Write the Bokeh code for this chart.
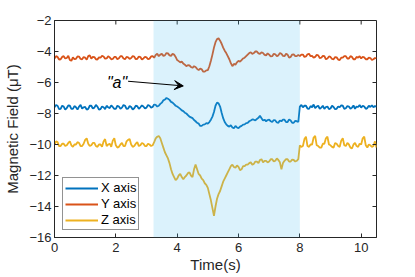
import math
from bokeh.plotting import figure
from bokeh.models import (BoxAnnotation, Arrow, VeeHead, Label, Legend, LegendItem,
                          FixedTicker, Range1d, ColumnDataSource)
from bokeh.embed import file_html
from bokeh.resources import INLINE

time_step = 0.05
x_axis = [-7.6, -7.45, -7.5, -7.72, -7.7, -7.5, -7.55, -7.75, -7.65, -7.48,
          -7.5, -7.7, -7.7, -7.52, -7.6, -7.75, -7.55, -7.45, -7.68, -7.6,
          -7.58, -7.75, -7.7, -7.5, -7.5, -7.68, -7.62, -7.45, -7.55, -7.75,
          -7.72, -7.55, -7.6, -7.72, -7.5, -7.6, -7.65, -7.48, -7.58, -7.7,
          -7.7, -7.5, -7.55, -7.7, -7.62, -7.45, -7.5, -7.7, -7.68, -7.52,
          -7.58, -7.74, -7.66, -7.5, -7.52, -7.7, -7.6, -7.48, -7.55, -7.68,
          -7.62, -7.45, -7.5, -7.62, -7.58, -7.42, -7.45, -7.55, -7.5, -7.38,
          -7.3, -7.15, -7.1, -7.0, -7.05, -7.12, -7.25, -7.3, -7.4, -7.5,
          -7.55, -7.62, -7.7, -7.8, -7.85, -7.95, -8.0, -8.1, -8.2, -8.25,
          -8.3, -8.42, -8.5, -8.6, -8.65, -8.8, -8.8, -8.72, -8.7, -8.62,
          -8.65, -8.55, -8.4, -8.2, -7.9, -7.5, -7.3, -7.35, -7.55, -7.95,
          -8.3, -8.55, -8.7, -8.8, -8.85, -8.75, -8.9, -8.95, -8.8, -8.9,
          -8.95, -8.85, -8.8, -8.72, -8.7, -8.62, -8.6, -8.5, -8.45, -8.38,
          -8.4, -8.45, -8.35, -8.28, -8.15, -8.3, -8.45, -8.4, -8.5, -8.42,
          -8.4, -8.5, -8.55, -8.42, -8.45, -8.58, -8.6, -8.45, -8.5, -8.4,
          -8.4, -8.55, -8.55, -8.38, -8.45, -8.6, -8.6, -8.48, -8.5, -8.55,
          -7.55, -7.45, -7.6, -7.5, -7.5, -7.68, -7.7, -7.52, -7.6, -7.42,
          -7.65, -7.55, -7.5, -7.7, -7.62, -7.5, -7.7, -7.58, -7.55, -7.72,
          -7.68, -7.5, -7.58, -7.72, -7.7, -7.55, -7.6, -7.48, -7.5, -7.7,
          -7.66, -7.52, -7.55, -7.7, -7.62, -7.48, -7.7, -7.55, -7.58, -7.45,
          -7.62, -7.5, -7.55, -7.7, -7.65, -7.5, -7.58, -7.48, -7.6, -7.52,
          -7.55]
y_axis = [-4.45, -4.3, -4.35, -4.52, -4.5, -4.35, -4.3, -4.45, -4.42, -4.28,
          -4.55, -4.6, -4.38, -4.5, -4.47, -4.32, -4.33, -4.48, -4.5, -4.36,
          -4.4, -4.52, -4.3, -4.25, -4.46, -4.35, -4.36, -4.5, -4.52, -4.38,
          -4.4, -4.28, -4.32, -4.46, -4.45, -4.3, -4.38, -4.5, -4.48, -4.35,
          -4.35, -4.5, -4.44, -4.3, -4.3, -4.45, -4.5, -4.35, -4.38, -4.48,
          -4.42, -4.3, -4.33, -4.5, -4.47, -4.32, -4.36, -4.52, -4.45, -4.35,
          -4.38, -4.5, -4.46, -4.32, -4.3, -4.4, -4.22, -4.15, -4.3, -4.2,
          -4.15, -4.28, -4.25, -4.1, -4.12, -4.25, -4.28, -4.15, -4.2, -4.35,
          -4.55, -4.62, -4.7, -4.65, -4.78, -4.85, -4.95, -4.88, -4.9, -5.0,
          -5.05, -4.95, -5.0, -5.12, -5.2, -5.1, -5.15, -5.3, -5.3, -5.22,
          -5.2, -4.95, -4.6, -4.2, -3.75, -3.4, -3.2, -3.15, -3.3, -3.5,
          -3.75, -3.95, -4.1, -4.3, -4.5, -4.75, -4.95, -4.8, -4.85, -4.7,
          -4.6, -4.65, -4.55, -4.45, -4.4, -4.3, -4.2, -4.1, -4.05, -4.15,
          -4.1, -4.0, -4.0, -4.12, -4.15, -4.05, -4.1, -4.22, -4.25, -4.12,
          -4.2, -4.32, -4.3, -4.15, -4.18, -4.3, -4.25, -4.1, -4.15, -4.28,
          -4.3, -4.15, -4.2, -4.4, -4.35, -4.2, -4.18, -4.3, -4.3, -4.22,
          -4.3, -4.2, -4.2, -4.35, -4.32, -4.18, -4.15, -4.3, -4.28, -4.4,
          -4.35, -4.22, -4.25, -4.42, -4.4, -4.28, -4.3, -4.5, -4.45, -4.32,
          -4.35, -4.48, -4.5, -4.36, -4.38, -4.52, -4.55, -4.4, -4.4, -4.3,
          -4.3, -4.45, -4.45, -4.3, -4.35, -4.5, -4.5, -4.35, -4.4, -4.3,
          -4.45, -4.35, -4.38, -4.5, -4.5, -4.4, -4.42, -4.55, -4.5, -4.42,
          -4.45]
z_axis = [-10.0, -9.8, -9.85, -10.1, -10.1, -9.95, -9.95, -10.1, -10.05, -9.9,
          -9.8, -10.05, -10.15, -10.0, -10.0, -9.85, -9.9, -10.1, -10.1, -9.95,
          -9.7, -9.6, -9.95, -10.1, -10.05, -9.9, -9.9, -10.1, -10.15, -10.0,
          -10.0, -10.15, -9.8, -9.65, -10.1, -10.0, -9.95, -10.15, -9.75, -9.6,
          -10.05, -10.2, -10.15, -10.0, -9.9, -10.1, -10.1, -9.8, -9.7, -9.65,
          -10.0, -10.15, -10.1, -9.95, -9.85, -10.1, -10.05, -9.9, -9.95, -10.1,
          -10.1, -9.95, -10.0, -10.1, -10.05, -9.85, -9.6, -9.5, -9.45, -9.6,
          -9.9, -10.2, -10.5, -10.7, -10.9, -11.2, -11.6, -11.9, -12.1, -12.3,
          -12.2, -12.0, -11.9, -12.1, -12.25, -12.1, -12.0, -11.85, -11.8, -12.0,
          -12.1, -11.6, -11.3, -11.6, -11.9, -12.0, -12.2, -12.3, -12.5, -12.6,
          -12.8, -13.2, -13.6, -14.1, -14.6, -14.0, -13.5, -13.2, -13.0, -12.7,
          -12.4, -12.2, -12.0, -11.8, -11.6, -11.4, -11.3, -11.45, -11.5, -11.35,
          -11.45, -11.65, -11.6, -11.4, -11.4, -11.3, -11.3, -11.2, -11.15, -11.3,
          -11.25, -11.1, -11.1, -11.2, -11.0, -10.95, -11.15, -11.05, -11.05, -11.15,
          -11.1, -10.95, -10.95, -11.1, -11.05, -10.9, -11.0, -11.15, -11.6, -11.2,
          -11.05, -10.95, -10.95, -11.1, -11.1, -10.98, -11.0, -11.1, -11.05, -10.95,
          -10.05, -10.15, -10.1, -9.65, -9.5, -10.1, -10.15, -10.0, -10.0, -9.55,
          -9.45, -10.05, -10.1, -10.2, -10.2, -9.95, -9.95, -9.6, -9.5, -10.0,
          -10.05, -10.15, -10.2, -9.9, -9.95, -10.1, -10.15, -9.75, -9.6, -10.05,
          -10.1, -9.9, -10.0, -10.2, -10.25, -10.0, -9.9, -10.1, -10.15, -9.95,
          -10.0, -9.6, -9.5, -10.05, -10.2, -10.0, -10.05, -10.15, -10.1, -9.8,
          -10.2]
series_names = ["X axis", "Y axis", "Z axis"]
series_colors = ["#0072BD", "#D95319", "#EDB120"]
x_ticks = [0, 2, 4, 6, 8, 10]
y_ticks = [-16, -14, -12, -10, -8, -6, -4, -2]
x_lim = (0, 10.5)
y_lim = (-16, -2)
event_start, event_end = 3.23, 8.0
annot_text = '"a"'
annot_pos = (2.04, -5.98)
arrow_from = (2.4, -5.92)
arrow_to = (4.2, -6.22)

t = [round(i * time_step, 3) for i in range(len(x_axis))]
src = ColumnDataSource(dict(t=t, X=x_axis, Y=y_axis, Z=z_axis))

FONT = "Liberation Sans"
AX = "#262626"

p = figure(width=415, height=277, x_range=Range1d(*x_lim), y_range=Range1d(*y_lim),
           output_backend="svg", toolbar_location=None,
           min_border_left=54, min_border_right=39, min_border_top=20, min_border_bottom=40)
p.background_fill_color = "white"
p.border_fill_color = "white"
p.xgrid.visible = False
p.ygrid.visible = False
p.outline_line_color = AX
p.outline_line_width = 1

renderers = []
for key, col in zip(["X", "Y", "Z"], series_colors):
    r = p.line("t", key, source=src, line_color=col, line_width=1.8)
    renderers.append(r)

# inward ticks on the top and right edges of the box
p.ray(x=x_ticks, y=[y_lim[1]] * len(x_ticks), length=4, length_units="screen",
      angle=-math.pi / 2, line_color=AX, line_width=1)
p.ray(x=[x_lim[1]] * len(y_ticks), y=y_ticks, length=4, length_units="screen",
      angle=math.pi, line_color=AX, line_width=1)

# shaded event region, drawn over the lines
p.add_layout(BoxAnnotation(left=event_start, right=event_end, fill_color="#4DBEEE",
                           fill_alpha=0.2, line_color=None))

for ax, ticks in ((p.xaxis[0], x_ticks), (p.yaxis[0], y_ticks)):
    ax.ticker = FixedTicker(ticks=ticks)
    ax.major_tick_in = 4
    ax.major_tick_out = 0
    ax.minor_tick_line_color = None
    ax.axis_line_color = AX
    ax.major_tick_line_color = AX
    ax.major_label_text_color = AX
    ax.major_label_text_font = FONT
    ax.major_label_text_font_size = "13px"
    ax.axis_label_text_font = FONT
    ax.axis_label_text_font_style = "normal"
    ax.axis_label_text_color = AX
    ax.axis_label_text_font_size = "15px"

p.xaxis[0].axis_label = "Time(s)"
p.xaxis[0].major_label_standoff = 5
p.xaxis[0].axis_label_standoff = 1
p.yaxis[0].axis_label = "Magnetic Field (μT)"
p.yaxis[0].major_label_standoff = 3
p.yaxis[0].axis_label_standoff = 5

# annotation
p.add_layout(Arrow(end=VeeHead(size=9, fill_color="black", line_color="black", line_width=1),
                   x_start=arrow_from[0], y_start=arrow_from[1],
                   x_end=arrow_to[0], y_end=arrow_to[1], line_color="black", line_width=1))
p.add_layout(Label(x=annot_pos[0], y=annot_pos[1], text=annot_text, text_font=FONT,
                   text_font_style="italic", text_font_size="16px", text_align="center",
                   text_baseline="middle", text_color="black"))

legend = Legend(items=[LegendItem(label=n, renderers=[r]) for n, r in zip(series_names, renderers)],
                location=(8, 7), margin=0, padding=2, spacing=1,
                glyph_width=33, glyph_height=14, label_height=14, label_standoff=3,
                label_text_font=FONT, label_text_font_size="13px", label_text_color="black",
                border_line_color=AX, border_line_width=1, background_fill_alpha=1)
p.add_layout(legend)

open("out.html", "w").write(file_html(p, INLINE))
